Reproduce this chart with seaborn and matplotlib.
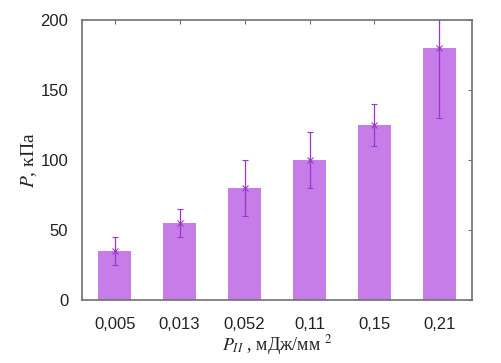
import pandas as pd
import seaborn as sns
import matplotlib.pyplot as plt

# Data
energy_labels = ['0,005', '0,013', '0,052', '0,11', '0,15', '0,21']
pressure = [35, 55, 80, 100, 125, 180]
pressure_err = [10, 10, 20, 20, 15, 50]

df = pd.DataFrame({'energy': energy_labels, 'pressure': pressure})

sns.set_style('white')
plt.rcParams['font.family'] = ['Liberation Sans', 'DejaVu Sans']
plt.rcParams['mathtext.fontset'] = 'stix'

fig = plt.figure(figsize=(5.01, 3.63), dpi=100)
ax = fig.add_axes([0.164, 0.174, 0.778, 0.771])

sns.barplot(data=df, x='energy', y='pressure', color='#c77de8', saturation=1,
            width=0.5, linewidth=0, ax=ax)

# error bars on top of the bars
xpos = range(len(energy_labels))
ax.errorbar(list(xpos), pressure, yerr=pressure_err, fmt='x', color='#9a35d0',
            ecolor='#9a35d0', elinewidth=0.9, capsize=2, markersize=4, mew=0.8)

ax.set_ylim(0, 200)
ax.set_xlim(-0.5, 5.5)
ax.set_yticks([0, 50, 100, 150, 200])

for s in ax.spines.values():
    s.set_color('#707070')
    s.set_linewidth(1.2)

ax.tick_params(axis='both', direction='in', length=3, color='#707070',
               top=True, right=True, labelsize=12, labelcolor='#222222')
ax.tick_params(axis='x', pad=12)
ax.tick_params(axis='y', left=False, pad=10)

serif = ['Liberation Serif', 'DejaVu Serif']
ax.set_xlabel(r'$P_{II}$ , мДж/мм $^2$', fontsize=13, family=serif, labelpad=1)
ax.set_ylabel(r'$P$, кПа', fontsize=14, family=serif)
ax.yaxis.set_label_coords(-0.11, 0.5)

plt.savefig('out.png', dpi=100)
